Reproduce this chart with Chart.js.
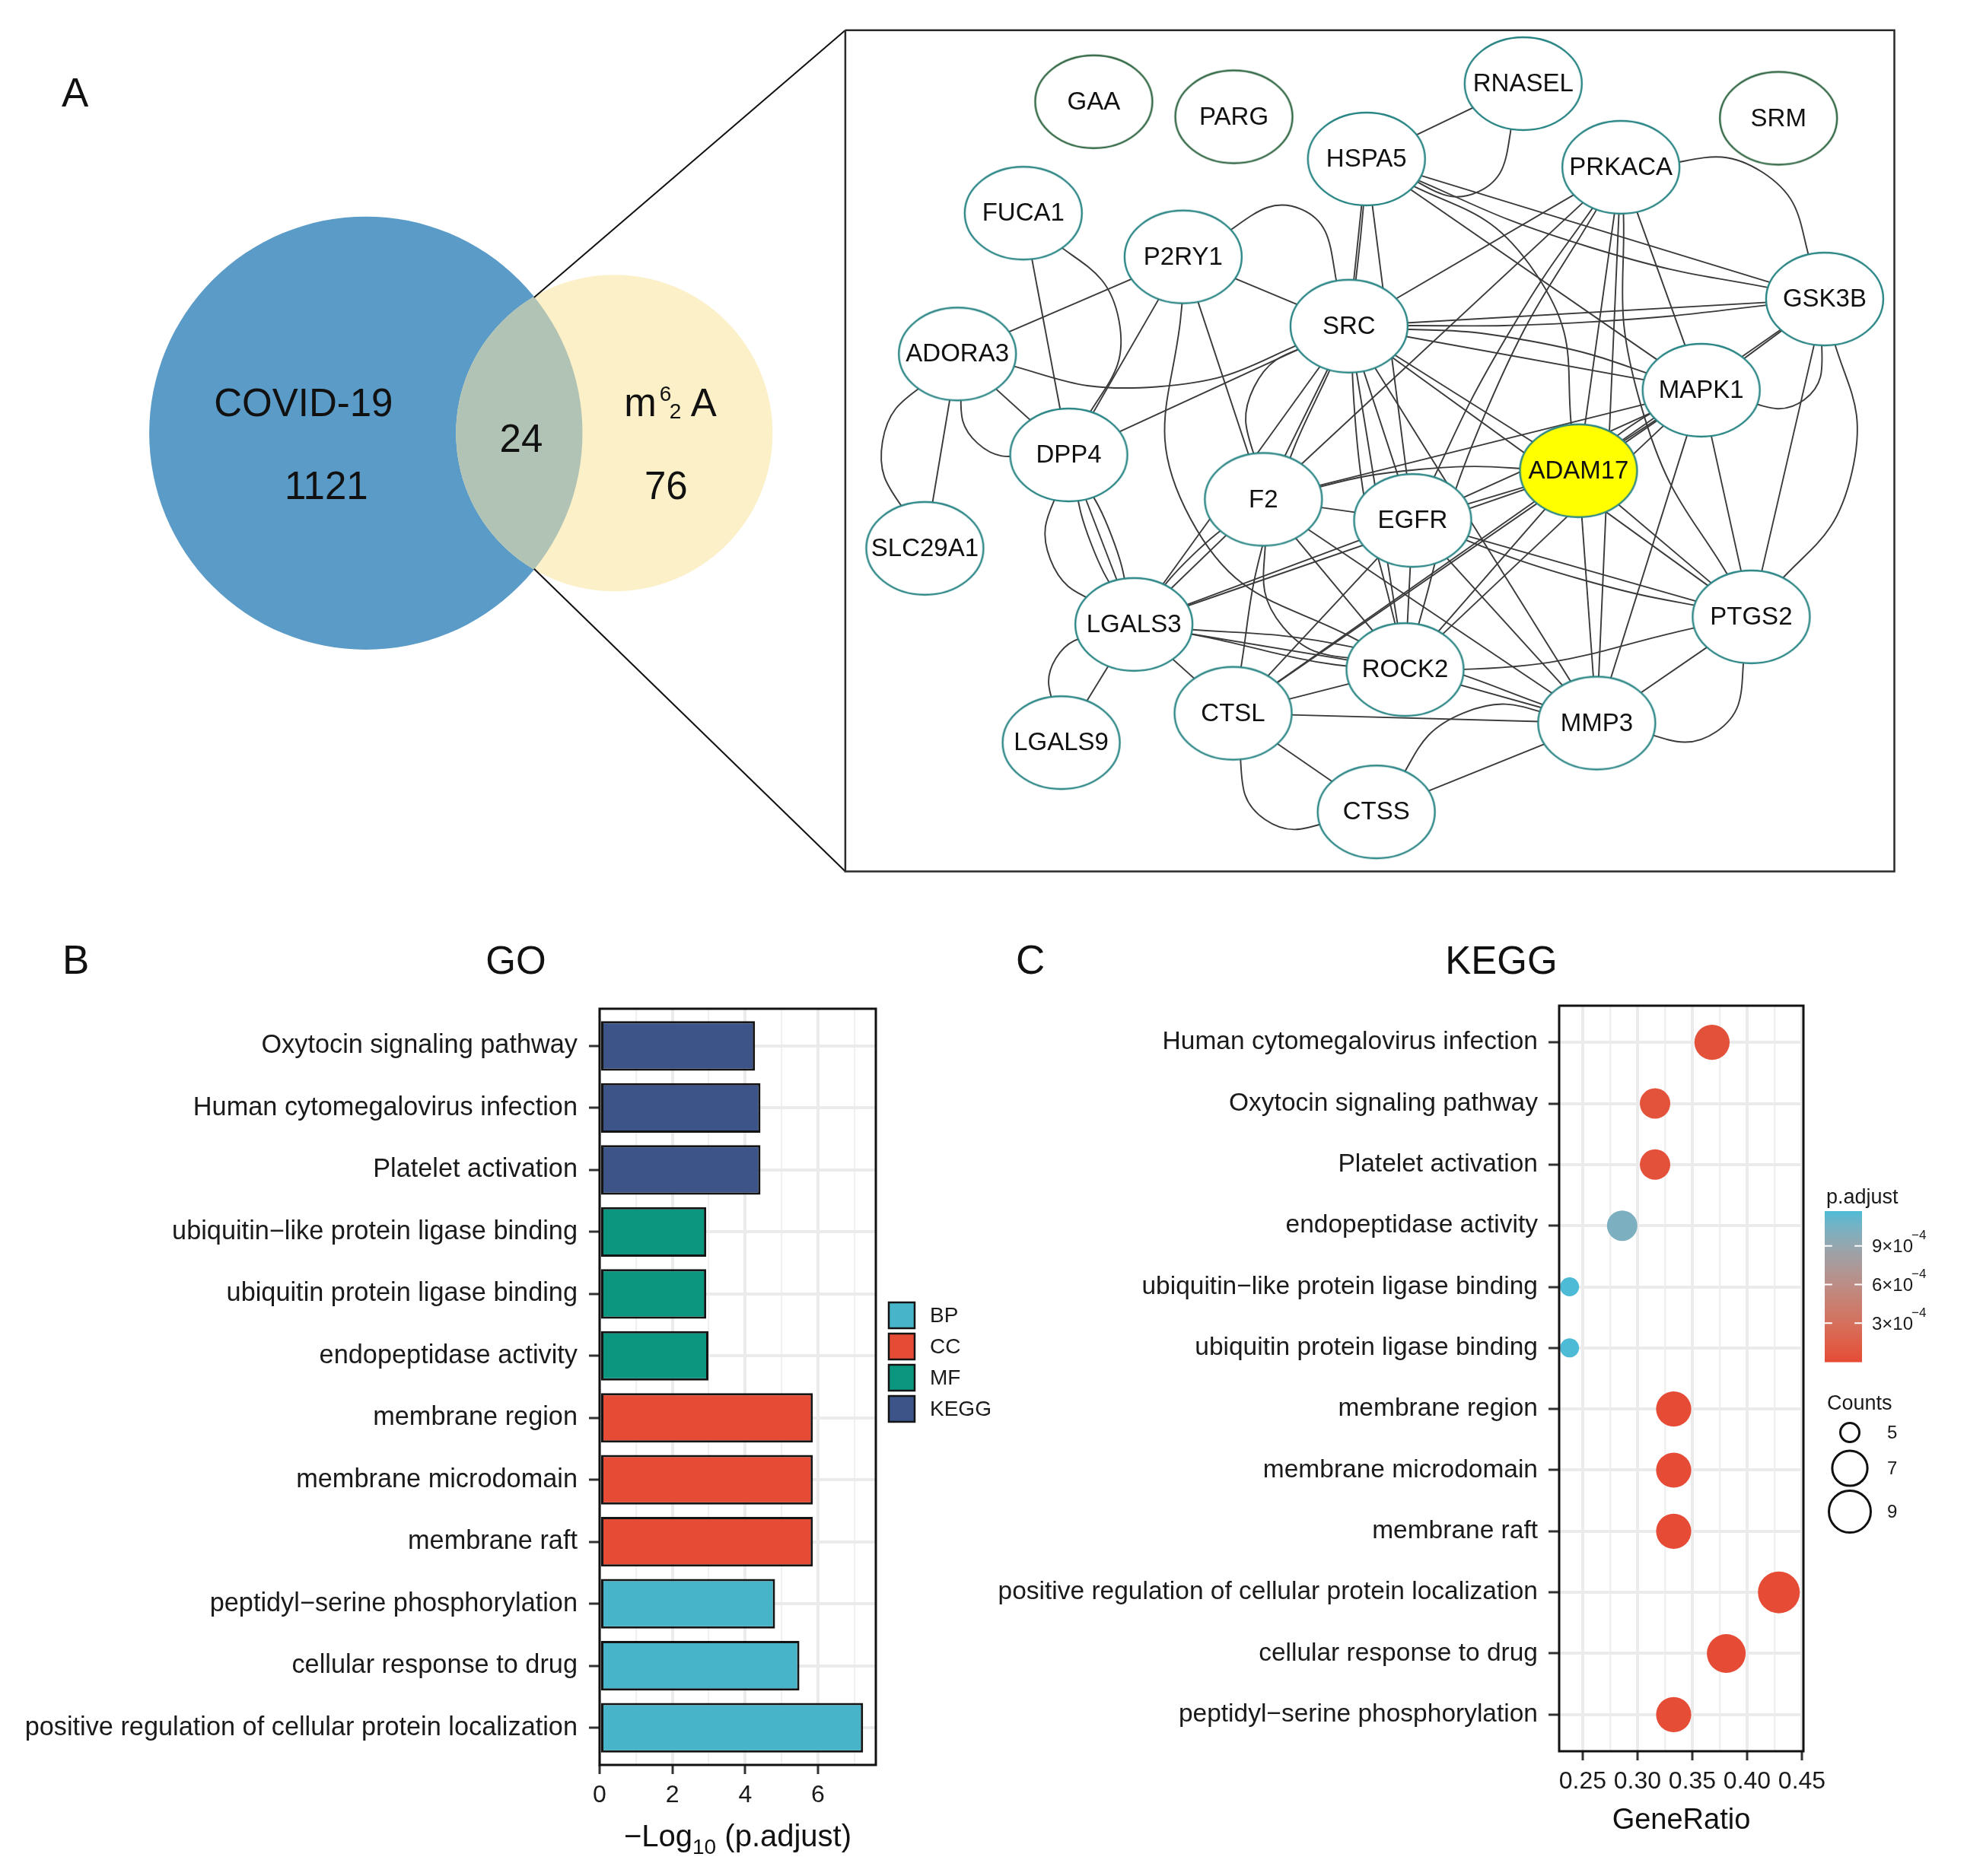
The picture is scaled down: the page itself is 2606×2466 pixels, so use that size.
<!DOCTYPE html>
<html>
<head>
<meta charset="utf-8">
<script src="https://cdn.jsdelivr.net/npm/chart.js@4.4.1/dist/chart.umd.min.js"></script>
<style>
html, body { margin: 0; padding: 0; background: #fff; }
#fig { position: relative; width: 2606px; height: 2466px; overflow: hidden; background: #fff; }
canvas { position: absolute; display: block; }
</style>
</head>
<body>
<div id="fig">
    <canvas id="panelA" width="2606" height="1200" style="left:0;top:0"></canvas>
    <canvas id="goChart" width="1330" height="1266" style="left:0;top:1200px"></canvas>
    <canvas id="keggChart" width="1326" height="1266" style="left:1280px;top:1200px"></canvas>
</div>
<script>
const FONT = "'Liberation Sans', Arial, Helvetica, sans-serif";
const INK = '#1a1a1a';

// ---------- A: Venn ----------
const vennNames = ['COVID-19', { base: 'm', sup: '6', sub: '2', tail: 'A' }];
const vennOnly = [1121, 76];
const vennShared = 24;

// ---------- A: PPI network ----------
const geneNames = ['GAA', 'PARG', 'RNASEL', 'SRM', 'HSPA5', 'PRKACA', 'FUCA1', 'P2RY1', 'SRC', 'GSK3B', 'ADORA3', 'MAPK1',
    'DPP4', 'ADAM17', 'F2', 'EGFR', 'SLC29A1', 'LGALS3', 'PTGS2', 'ROCK2', 'CTSL', 'MMP3', 'LGALS9', 'CTSS'];
// node layout (figure units)
const geneX = [1438, 1623, 2005, 2342, 1798, 2134, 1345, 1556, 1775, 2403, 1258, 2240, 1405, 2078, 1662, 1859, 1215, 1491, 2306, 1849, 1622, 2102, 1395, 1811];
const geneY = [129, 149, 105, 151, 205, 216, 277, 335, 427, 391, 464, 512, 598, 619, 657, 685, 722, 823, 813, 883, 941, 954, 980, 1072];
const isolatedGenes = ['GAA', 'PARG', 'SRM'];
const hubGenes = ['ADAM17'];
// [from, to, curvature]
const interactions = [
    ['RNASEL', 'HSPA5', 0], ['RNASEL', 'HSPA5', -0.45],
    ['HSPA5', 'SRC', 0], ['HSPA5', 'EGFR', 0], ['HSPA5', 'ADAM17', -0.2], ['HSPA5', 'MAPK1', 0], ['HSPA5', 'GSK3B', 0], ['HSPA5', 'GSK3B', 0.04], ['HSPA5', 'ROCK2', 0.06],
    ['PRKACA', 'SRC', 0], ['PRKACA', 'F2', 0], ['PRKACA', 'EGFR', 0.03], ['PRKACA', 'ROCK2', 0.05], ['PRKACA', 'MAPK1', 0], ['PRKACA', 'ADAM17', 0], ['PRKACA', 'PTGS2', 0.1], ['PRKACA', 'GSK3B', -0.3], ['PRKACA', 'MMP3', 0],
    ['FUCA1', 'DPP4', 0], ['FUCA1', 'DPP4', -0.3],
    ['P2RY1', 'ADORA3', 0], ['P2RY1', 'SRC', 0], ['P2RY1', 'SRC', -0.5], ['P2RY1', 'F2', 0], ['P2RY1', 'DPP4', 0], ['P2RY1', 'ROCK2', 0.25],
    ['ADORA3', 'SRC', 0.12], ['ADORA3', 'DPP4', 0], ['ADORA3', 'DPP4', 0.35], ['ADORA3', 'SLC29A1', 0], ['ADORA3', 'SLC29A1', 0.3],
    ['SRC', 'GSK3B', 0], ['SRC', 'GSK3B', 0.02], ['SRC', 'MAPK1', 0], ['SRC', 'MAPK1', -0.05], ['SRC', 'ADAM17', 0], ['SRC', 'PTGS2', 0], ['SRC', 'MMP3', 0],
    ['SRC', 'EGFR', 0], ['SRC', 'ROCK2', 0], ['SRC', 'F2', 0], ['SRC', 'F2', 0.3], ['SRC', 'LGALS3', 0], ['SRC', 'DPP4', 0], ['SRC', 'CTSL', 0.05],
    ['GSK3B', 'MAPK1', 0], ['GSK3B', 'MAPK1', -0.45], ['GSK3B', 'PTGS2', 0], ['GSK3B', 'PTGS2', -0.2], ['GSK3B', 'ADAM17', 0],
    ['MAPK1', 'ADAM17', 0], ['MAPK1', 'ADAM17', 0.06], ['MAPK1', 'EGFR', 0], ['MAPK1', 'F2', 0], ['MAPK1', 'PTGS2', 0], ['MAPK1', 'MMP3', 0], ['MAPK1', 'ROCK2', 0], ['MAPK1', 'CTSL', 0],
    ['ADAM17', 'EGFR', 0], ['ADAM17', 'MMP3', 0], ['ADAM17', 'PTGS2', 0], ['ADAM17', 'ROCK2', 0], ['ADAM17', 'CTSL', 0], ['ADAM17', 'F2', 0.05], ['ADAM17', 'LGALS3', 0],
    ['F2', 'EGFR', 0], ['F2', 'ROCK2', 0], ['F2', 'ROCK2', 0.3], ['F2', 'LGALS3', 0], ['F2', 'LGALS3', 0.05], ['F2', 'MMP3', 0],
    ['EGFR', 'PTGS2', 0], ['EGFR', 'PTGS2', 0.03], ['EGFR', 'MMP3', 0], ['EGFR', 'ROCK2', 0], ['EGFR', 'LGALS3', 0], ['EGFR', 'CTSL', 0],
    ['DPP4', 'LGALS3', 0], ['DPP4', 'LGALS3', 0.06], ['DPP4', 'LGALS3', -0.06], ['DPP4', 'LGALS3', 0.3],
    ['LGALS3', 'LGALS9', 0], ['LGALS3', 'LGALS9', 0.35], ['LGALS3', 'ROCK2', 0], ['LGALS3', 'MMP3', -0.05], ['LGALS3', 'CTSL', 0], ['LGALS3', 'PTGS2', 0.08],
    ['ROCK2', 'MMP3', 0], ['ROCK2', 'CTSL', 0],
    ['CTSL', 'MMP3', 0], ['CTSL', 'CTSS', 0], ['CTSL', 'CTSS', 0.4],
    ['CTSS', 'MMP3', 0], ['CTSS', 'MMP3', -0.25],
    ['MMP3', 'PTGS2', 0], ['MMP3', 'PTGS2', 0.4]
];

// ---------- B: GO / KEGG bars ----------
const goTerms = ['Oxytocin signaling pathway', 'Human cytomegalovirus infection', 'Platelet activation',
    'ubiquitin\u2212like protein ligase binding', 'ubiquitin protein ligase binding', 'endopeptidase activity',
    'membrane region', 'membrane microdomain', 'membrane raft',
    'peptidyl\u2212serine phosphorylation', 'cellular response to drug', 'positive regulation of cellular protein localization'];
const goClass = ['KEGG', 'KEGG', 'KEGG', 'MF', 'MF', 'MF', 'CC', 'CC', 'CC', 'BP', 'BP', 'BP'];
const goLogP = [4.27, 4.42, 4.42, 2.93, 2.93, 2.99, 5.86, 5.86, 5.86, 4.82, 5.49, 7.24];
const goClasses = ['BP', 'CC', 'MF', 'KEGG'];
const goXTicks = [0, 1, 2, 3, 4, 5, 6, 7];

// ---------- C: dot plot ----------
const keggTerms = ['Human cytomegalovirus infection', 'Oxytocin signaling pathway', 'Platelet activation', 'endopeptidase activity',
    'ubiquitin\u2212like protein ligase binding', 'ubiquitin protein ligase binding', 'membrane region', 'membrane microdomain',
    'membrane raft', 'positive regulation of cellular protein localization', 'cellular response to drug', 'peptidyl\u2212serine phosphorylation'];
const keggRatio = [0.368, 0.316, 0.316, 0.286, 0.238, 0.238, 0.333, 0.333, 0.333, 0.429, 0.381, 0.333];
const keggCount = [7, 6, 6, 6, 5, 5, 7, 7, 7, 9, 8, 7];
const keggPAdjust = [3.8e-5, 5.4e-5, 3.8e-5, 1.02e-3, 1.17e-3, 1.17e-3, 1.4e-6, 1.4e-6, 1.4e-6, 5.8e-8, 3.2e-6, 1.5e-5];
const keggXTicks = [0.25, 0.275, 0.30, 0.325, 0.35, 0.375, 0.40, 0.425, 0.45];
const pAdjustBreaks = [3e-4, 6e-4, 9e-4];
const countBreaks = [5, 7, 9];

// ---------- layout / styles ----------
const vennLayout = [{ cx: 477, cy: 569, r: 286 }, { cx: 805, cy: 569, r: 209 }];
const vennColors = ['#5A9BC7', '#FCF0C9', '#B1C3B4'];
const networkFrame = { x0: 1110, y0: 34, x1: 2495, y1: 1151 };
const goColors = ['#47B4CA', '#E64B35', '#0B9680', '#3C5488'];
const lowColor = '#E64B35', highColor = '#4DBBD5';

Chart.defaults.font.family = FONT;
Chart.defaults.color = INK;

// ---- colour helpers (Lab interpolation like ggplot gradients)
function hexRgb(h) { return [1, 3, 5].map(i => parseInt(h.slice(i, i + 2), 16)); }
function toLab(rgb) {
    const lin = rgb.map(c => { c /= 255; return c <= 0.04045 ? c / 12.92 : Math.pow((c + 0.055) / 1.055, 2.4); });
    const X = (0.4124 * lin[0] + 0.3576 * lin[1] + 0.1805 * lin[2]) / 0.95047;
    const Y = 0.2126 * lin[0] + 0.7152 * lin[1] + 0.0722 * lin[2];
    const Z = (0.0193 * lin[0] + 0.1192 * lin[1] + 0.9505 * lin[2]) / 1.08883;
    const f = t => t > 0.008856 ? Math.cbrt(t) : 7.787 * t + 16 / 116;
    return [116 * f(Y) - 16, 500 * (f(X) - f(Y)), 200 * (f(Y) - f(Z))];
}
function fromLab([L, a, b]) {
    const fy = (L + 16) / 116, fx = fy + a / 500, fz = fy - b / 200;
    const inv = t => t * t * t > 0.008856 ? t * t * t : (t - 16 / 116) / 7.787;
    const X = inv(fx) * 0.95047, Y = inv(fy), Z = inv(fz) * 1.08883;
    const lin = [3.2406 * X - 1.5372 * Y - 0.4986 * Z, -0.9689 * X + 1.8758 * Y + 0.0415 * Z, 0.0557 * X - 0.2040 * Y + 1.0570 * Z];
    return lin.map(c => { const v = c <= 0.0031308 ? 12.92 * c : 1.055 * Math.pow(c, 1 / 2.4) - 0.055; return Math.round(Math.max(0, Math.min(1, v)) * 255); });
}
const labLow = toLab(hexRgb(lowColor)), labHigh = toLab(hexRgb(highColor));
function gradientAt(t) {
    const c = fromLab(labLow.map((v, i) => v + (labHigh[i] - v) * t));
    return `rgb(${c[0]},${c[1]},${c[2]})`;
}
const pMin = Math.min(...keggPAdjust), pMax = Math.max(...keggPAdjust);
const pColor = p => gradientAt((p - pMin) / (pMax - pMin));
const cMin = Math.min(...keggCount), cMax = Math.max(...keggCount);
const countRadius = n => 12.5 + 15 * Math.sqrt((n - cMin) / (cMax - cMin));

// ================= Panel A =================
const geneIndex = name => geneNames.indexOf(name);

const edgeDatasets = interactions.map(([from, to, bend]) => {
    const i = geneIndex(from), j = geneIndex(to);
    const p = { x: geneX[i], y: geneY[i] }, q = { x: geneX[j], y: geneY[j] };
    const pts = [p];
    if (bend) {
        pts.push({ x: (p.x + q.x) / 2 - bend * (q.y - p.y), y: (p.y + q.y) / 2 + bend * (q.x - p.x) });
    }
    pts.push(q);
    return {
        type: 'line', data: pts, borderColor: '#3a3a3a', borderWidth: 1.9,
        pointRadius: 0, tension: bend ? 0.5 : 0, fill: false, order: 3
    };
});

// chord of the two Venn circles
function vennChord() {
    const [a, b] = vennLayout;
    const d = b.cx - a.cx;
    const ax = (a.r * a.r - b.r * b.r + d * d) / (2 * d);
    const h = Math.sqrt(a.r * a.r - ax * ax);
    return { x: a.cx + ax, top: a.cy - h, bottom: a.cy + h };
}
const chord = vennChord();
const f = networkFrame;

const frameDatasets = [
    { type: 'line', data: [{ x: f.x0, y: f.y0 }, { x: f.x1, y: f.y0 }, { x: f.x1, y: f.y1 }, { x: f.x0, y: f.y1 }, { x: f.x0, y: f.y0 }],
        borderColor: '#2a2a2a', borderWidth: 2.5, pointRadius: 0, tension: 0, fill: false, order: 2 },
    { type: 'line', data: [{ x: chord.x, y: chord.top }, { x: f.x0, y: f.y0 }],
        borderColor: '#111', borderWidth: 2, pointRadius: 0, tension: 0, fill: false, order: 2 },
    { type: 'line', data: [{ x: chord.x, y: chord.bottom }, { x: f.x0, y: f.y1 }],
        borderColor: '#111', borderWidth: 2, pointRadius: 0, tension: 0, fill: false, order: 2 }
];

function nodeImage(fill, stroke) {
    const rx = 77, ry = 61;
    const c = document.createElement('canvas');
    c.width = rx * 2 + 6; c.height = ry * 2 + 6;
    const g = c.getContext('2d');
    g.beginPath();
    g.ellipse(c.width / 2, c.height / 2, rx, ry, 0, 0, Math.PI * 2);
    g.fillStyle = fill; g.fill();
    g.lineWidth = 2.4; g.strokeStyle = stroke; g.stroke();
    return c;
}
const nodeStyles = {
    normal: nodeImage('#ffffff', '#2A8585'),
    isolated: nodeImage('#ffffff', '#2D6440'),
    hub: nodeImage('#FFFF00', '#2A8585')
};
const nodeDataset = {
    type: 'scatter', id: 'genes', order: 1,
    data: geneNames.map((g, i) => ({ x: geneX[i], y: geneY[i] })),
    pointRadius: 5,
    pointStyle: ctx => {
        const name = geneNames[ctx.dataIndex];
        if (hubGenes.includes(name)) return nodeStyles.hub;
        if (isolatedGenes.includes(name)) return nodeStyles.isolated;
        return nodeStyles.normal;
    }
};

const vennPlugin = {
    id: 'venn',
    beforeDatasetsDraw(chart) {
        const { ctx } = chart;
        const sx = chart.scales.x, sy = chart.scales.y;
        const path = c => {
            ctx.beginPath();
            ctx.arc(sx.getPixelForValue(c.cx), sy.getPixelForValue(c.cy), sx.getPixelForValue(c.r) - sx.getPixelForValue(0), 0, Math.PI * 2);
        };
        ctx.save();
        path(vennLayout[0]); ctx.fillStyle = vennColors[0]; ctx.fill();
        path(vennLayout[1]); ctx.fillStyle = vennColors[1]; ctx.fill();
        path(vennLayout[0]); ctx.clip();
        path(vennLayout[1]); ctx.fillStyle = vennColors[2]; ctx.fill();
        ctx.restore();

        const ax = sx.getPixelForValue(vennLayout[0].cx), ay = sy.getPixelForValue(vennLayout[0].cy);
        const bx = sx.getPixelForValue(vennLayout[1].cx), by = sy.getPixelForValue(vennLayout[1].cy);
        const cx = sx.getPixelForValue(chord.x);
        ctx.save();
        ctx.fillStyle = '#111';
        ctx.textAlign = 'center';
        ctx.textBaseline = 'alphabetic';
        ctx.font = `51px ${FONT}`;
        ctx.fillText(vennNames[0], ax - 82, ay - 22);
        ctx.fillText(String(vennOnly[0]), ax - 52, ay + 87);
        ctx.fillText(String(vennShared), cx - 17, ay + 25);
        ctx.fillText(String(vennOnly[1]), bx + 68, by + 87);
        const m = vennNames[1];
        ctx.textAlign = 'left';
        const x0 = bx + 13;
        ctx.fillText(m.base, x0, by - 22);
        const w = ctx.measureText(m.base).width;
        ctx.font = `28px ${FONT}`;
        ctx.fillText(m.sup, x0 + w + 4, by - 42);
        ctx.fillText(m.sub, x0 + w + 17, by - 19);
        ctx.font = `51px ${FONT}`;
        ctx.fillText(m.tail, x0 + w + 45, by - 22);
        // panel letter
        ctx.font = `53px ${FONT}`;
        ctx.fillText('A', 81, 140);
        ctx.restore();
    }
};

const geneLabelPlugin = {
    id: 'geneLabels',
    afterDatasetsDraw(chart) {
        const idx = chart.data.datasets.findIndex(d => d.id === 'genes');
        const meta = chart.getDatasetMeta(idx);
        const { ctx } = chart;
        ctx.save();
        ctx.fillStyle = '#111';
        ctx.font = `33px ${FONT}`;
        ctx.textAlign = 'center';
        ctx.textBaseline = 'middle';
        meta.data.forEach((pt, i) => ctx.fillText(geneNames[i], pt.x, pt.y + 1));
        ctx.restore();
    }
};

new Chart(document.getElementById('panelA'), {
    type: 'scatter',
    data: { datasets: [...edgeDatasets, ...frameDatasets, nodeDataset] },
    options: {
        responsive: false, animation: false, devicePixelRatio: 1,
        layout: { padding: 0 },
        plugins: { legend: { display: false }, tooltip: { enabled: false } },
        scales: {
            x: { type: 'linear', display: false, min: 0, max: 2606 },
            y: { type: 'linear', display: false, min: 0, max: 1200, reverse: true }
        }
    },
    plugins: [vennPlugin, geneLabelPlugin]
});

// ================= Panel B =================
const panelBox = (ctx, a) => {
    ctx.save();
    ctx.strokeStyle = '#111';
    ctx.lineWidth = 3;
    ctx.strokeRect(a.left, a.top, a.right - a.left, a.bottom - a.top);
    ctx.restore();
};

const goDecor = {
    id: 'goDecor',
    afterDraw(chart) {
        const { ctx, chartArea: a } = chart;
        panelBox(ctx, a);
        ctx.save();
        ctx.fillStyle = '#111';
        ctx.textBaseline = 'alphabetic';
        ctx.textAlign = 'left';
        ctx.font = `53px ${FONT}`;
        ctx.fillText('B', 82, 80);
        ctx.textAlign = 'center';
        ctx.font = `51px ${FONT}`;
        ctx.fillText('GO', 678, 80);

        // x title: −Log10 (p.adjust)
        ctx.textAlign = 'left';
        const big = `40px ${FONT}`, small = `28px ${FONT}`;
        ctx.font = big; const w1 = ctx.measureText('\u2212Log').width; const w3 = ctx.measureText(' (p.adjust)').width;
        ctx.font = small; const w2 = ctx.measureText('10').width;
        let x = (a.left + a.right) / 2 - (w1 + w2 + w3) / 2;
        const yb = 1227;
        ctx.font = big; ctx.fillText('\u2212Log', x, yb); x += w1;
        ctx.font = small; ctx.fillText('10', x, yb + 10); x += w2;
        ctx.font = big; ctx.fillText(' (p.adjust)', x, yb);

        // legend
        const ds = chart.data.datasets;
        ds.forEach((d, k) => {
            const bx = a.right + 17, by = a.top + 386 + k * 41;
            ctx.fillStyle = d.backgroundColor;
            ctx.fillRect(bx, by, 34, 34);
            ctx.strokeStyle = '#141414'; ctx.lineWidth = 2.5;
            ctx.strokeRect(bx, by, 34, 34);
            ctx.fillStyle = INK;
            ctx.font = `28px ${FONT}`;
            ctx.textBaseline = 'middle';
            ctx.fillText(d.label, a.right + 71, by + 18);
        });
        ctx.restore();
    }
};

new Chart(document.getElementById('goChart'), {
    type: 'bar',
    data: {
        datasets: goClasses.map((cls, k) => ({
            label: cls,
            data: goTerms.map((t, i) => ({ x: goLogP[i], y: i })).filter((_, i) => goClass[i] === cls),
            backgroundColor: goColors[k],
            borderColor: '#141414',
            borderWidth: 3,
            borderSkipped: false,
            grouped: false,
            barPercentage: 0.8,
            categoryPercentage: 1
        }))
    },
    options: {
        indexAxis: 'y',
        responsive: false, animation: false, devicePixelRatio: 1,
        layout: { padding: { top: 126, right: 179, left: 0, bottom: 0 } },
        plugins: { legend: { display: false }, tooltip: { enabled: false } },
        scales: {
            x: {
                type: 'linear', position: 'bottom', min: 0, max: 7.59, offset: false,
                afterBuildTicks: s => { s.ticks = goXTicks.map(v => ({ value: v })); },
                afterFit: s => { s.height = 146; },
                ticks: { callback: v => v % 2 === 0 ? String(v) : '', autoSkip: false, maxRotation: 0, padding: 9, color: INK, font: { size: 32 } },
                grid: {
                    offset: false,
                    color: c => c.tick && c.tick.value % 2 ? '#F1F1F1' : '#EBEBEB',
                    lineWidth: c => c.tick && c.tick.value % 2 ? 2.2 : 4,
                    tickLength: 12, tickWidth: 3,
                    tickColor: c => c.tick && c.tick.value % 2 ? 'rgba(0,0,0,0)' : '#333'
                },
                border: { display: false }
            },
            y: {
                type: 'linear', position: 'left', reverse: true, min: -0.6, max: goTerms.length - 0.4, offset: false,
                afterBuildTicks: s => { s.ticks = goTerms.map((_, i) => ({ value: i })); },
                afterFit: s => { s.width = 788; },
                ticks: { callback: v => goTerms[v], autoSkip: false, padding: 15, color: INK, font: { size: 34.3 } },
                grid: { offset: false, color: '#EBEBEB', lineWidth: 4, tickLength: 14, tickWidth: 3, tickColor: '#333' },
                border: { display: false }
            }
        }
    },
    plugins: [goDecor]
});

// ================= Panel C =================
const keggDecor = {
    id: 'keggDecor',
    afterDraw(chart) {
        const { ctx, chartArea: a } = chart;
        panelBox(ctx, a);
        ctx.save();
        ctx.fillStyle = '#111';
        ctx.textBaseline = 'alphabetic';
        ctx.textAlign = 'left';
        ctx.font = `53px ${FONT}`;
        ctx.fillText('C', 55, 80);
        ctx.textAlign = 'center';
        ctx.font = `51px ${FONT}`;
        ctx.fillText('KEGG', 693, 80);
        ctx.font = `38px ${FONT}`;
        ctx.fillText('GeneRatio', (a.left + a.right) / 2, 1204);

        // colour bar
        ctx.textAlign = 'left';
        ctx.fillStyle = INK;
        ctx.font = `27px ${FONT}`;
        ctx.fillText('p.adjust', a.right + 30, a.top + 260);
        const bx = a.right + 28, bw = 49, by = a.top + 270, bh = 198;
        for (let k = 0; k < bh; k++) {
            ctx.fillStyle = gradientAt(1 - (k + 0.5) / bh);
            ctx.fillRect(bx, by + k, bw, 1.6);
        }
        pAdjustBreaks.forEach(v => {
            const ty = by + bh - (v - pMin) / (pMax - pMin) * bh;
            ctx.strokeStyle = '#fff'; ctx.lineWidth = 2;
            ctx.beginPath();
            ctx.moveTo(bx, ty); ctx.lineTo(bx + bw / 5, ty);
            ctx.moveTo(bx + bw * 4 / 5, ty); ctx.lineTo(bx + bw, ty);
            ctx.stroke();
            const mant = String(Math.round(v / 1e-4));
            const exp = Math.round(Math.log10(1e-4));
            ctx.fillStyle = INK;
            ctx.font = `24px ${FONT}`;
            ctx.textBaseline = 'middle';
            const main = `${mant}\u00d710`;
            ctx.fillText(main, a.right + 90, ty + 2);
            const mw = ctx.measureText(main).width;
            ctx.font = `17px ${FONT}`;
            ctx.fillText(`\u2212${Math.abs(exp)}`, a.right + 90 + mw - 2, ty - 13);
        });

        // size legend
        ctx.textBaseline = 'alphabetic';
        ctx.font = `27px ${FONT}`;
        ctx.fillText('Counts', a.right + 31, a.top + 531);
        const cy = [a.top + 561, a.top + 608, a.top + 665];
        countBreaks.forEach((n, k) => {
            ctx.beginPath();
            ctx.arc(a.right + 61, cy[k], countRadius(n), 0, Math.PI * 2);
            ctx.strokeStyle = '#111'; ctx.lineWidth = 3;
            ctx.stroke();
            ctx.font = `24px ${FONT}`;
            ctx.textBaseline = 'middle';
            ctx.fillText(String(n), a.right + 110, cy[k] + 1);
        });
        ctx.restore();
    }
};

new Chart(document.getElementById('keggChart'), {
    type: 'scatter',
    data: {
        datasets: [{
            data: keggTerms.map((t, i) => ({ x: keggRatio[i], y: i })),
            pointRadius: c => countRadius(keggCount[c.dataIndex]),
            pointHoverRadius: c => countRadius(keggCount[c.dataIndex]),
            backgroundColor: c => pColor(keggPAdjust[c.dataIndex]),
            borderWidth: 0
        }]
    },
    options: {
        responsive: false, animation: false, devicePixelRatio: 1,
        layout: { padding: { top: 122, right: 236, left: 0, bottom: 0 } },
        plugins: { legend: { display: false }, tooltip: { enabled: false } },
        scales: {
            x: {
                type: 'linear', position: 'bottom', min: 0.2285, max: 0.4514,
                afterBuildTicks: s => { s.ticks = keggXTicks.map(v => ({ value: v })); },
                afterFit: s => { s.height = 164; },
                ticks: {
                    callback: v => Math.round(v * 1000) % 50 === 0 ? v.toFixed(2) : '',
                    autoSkip: false, maxRotation: 0, padding: 9, color: INK, font: { size: 32 }
                },
                grid: {
                    color: c => c.tick && Math.round(c.tick.value * 1000) % 50 ? '#F0F0F0' : '#EBEBEB',
                    lineWidth: c => c.tick && Math.round(c.tick.value * 1000) % 50 ? 2.5 : 4,
                    tickLength: 12, tickWidth: 3,
                    tickColor: c => c.tick && Math.round(c.tick.value * 1000) % 50 ? 'rgba(0,0,0,0)' : '#333'
                },
                border: { display: false }
            },
            y: {
                type: 'linear', position: 'left', reverse: true, min: -0.6, max: keggTerms.length - 0.4,
                afterBuildTicks: s => { s.ticks = keggTerms.map((_, i) => ({ value: i })); },
                afterFit: s => { s.width = 769; },
                ticks: { callback: v => keggTerms[v], autoSkip: false, padding: 14, color: INK, font: { size: 33.5 } },
                grid: { color: '#EBEBEB', lineWidth: 4, tickLength: 14, tickWidth: 3, tickColor: '#333' },
                border: { display: false }
            }
        }
    },
    plugins: [keggDecor]
});
</script>
</body>
</html>
